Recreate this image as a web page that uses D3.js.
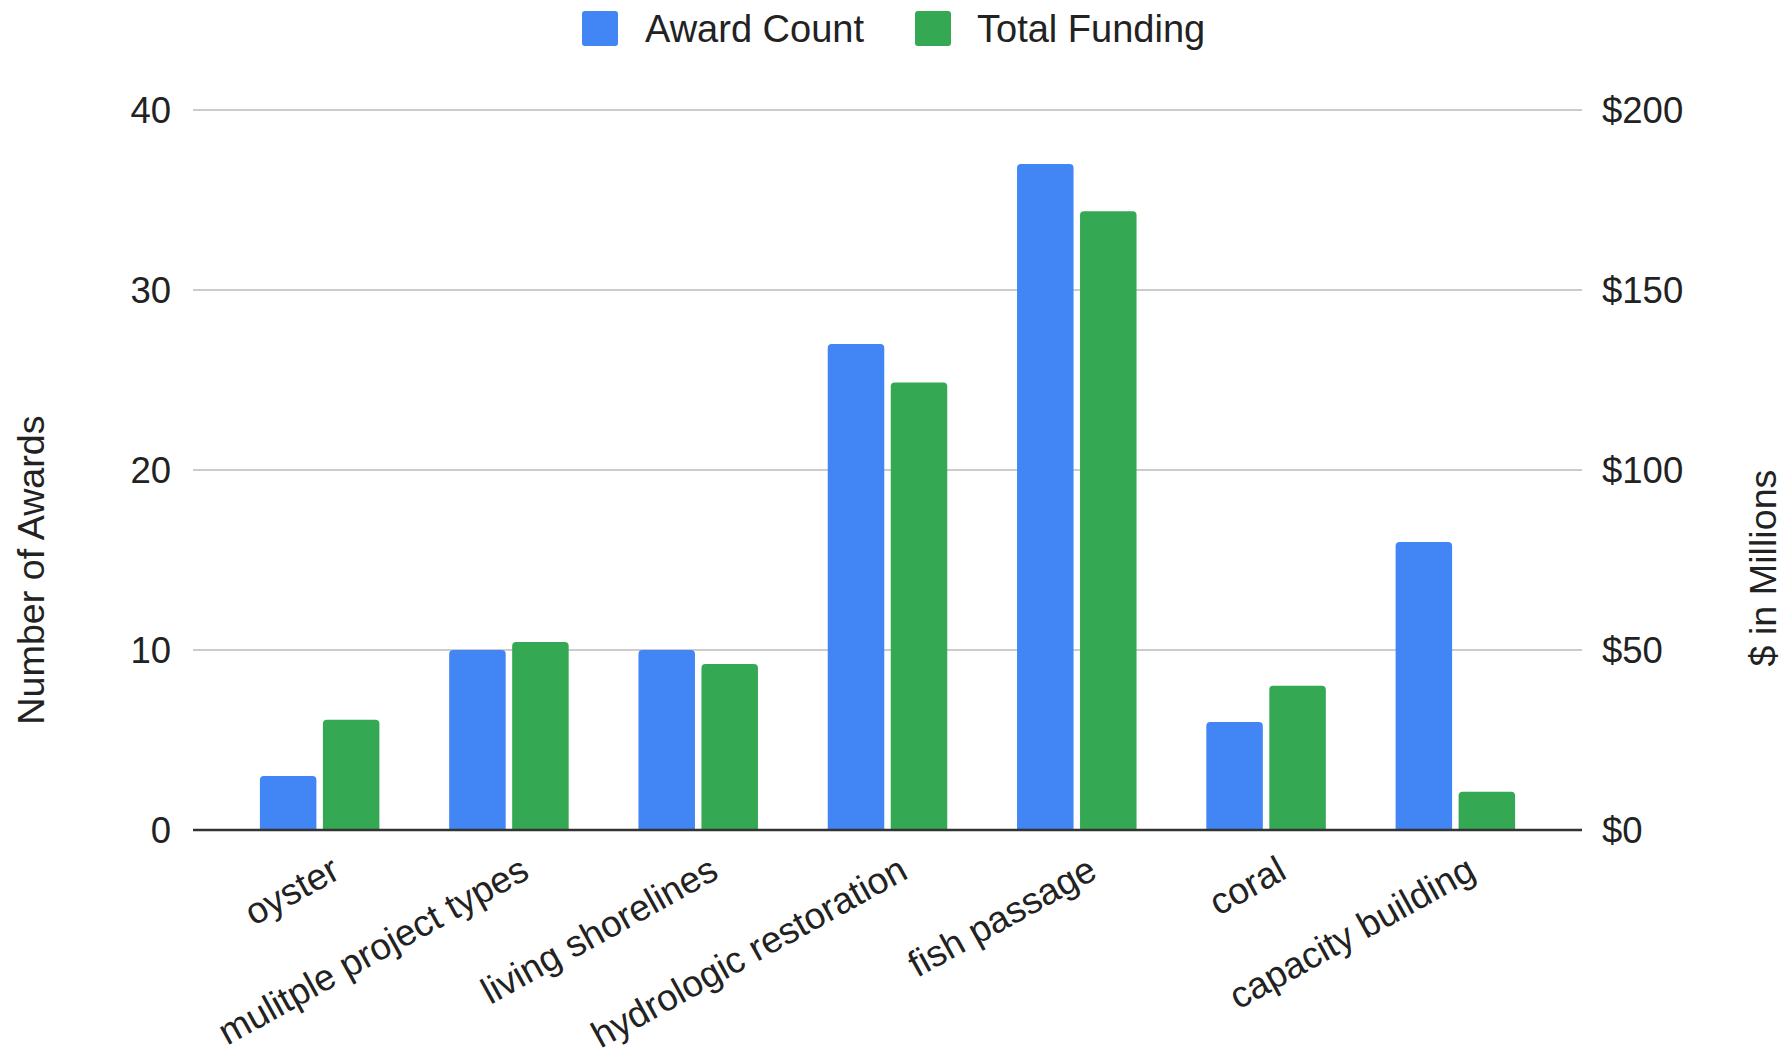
<!DOCTYPE html>
<html>
<head>
<meta charset="utf-8">
<script src="https://cdn.jsdelivr.net/npm/d3@7"></script>
<style>
  html, body { margin: 0; padding: 0; background: #fff; }
  svg { display: block; font-family: Arial, "Liberation Sans", sans-serif; }
</style>
</head>
<body>
<svg id="chart" width="1786" height="1059"></svg>
<script>
const categories = ["oyster", "mulitple project types", "living shorelines", "hydrologic restoration", "fish passage", "coral", "capacity building"];
const awardCount = [3, 10, 10, 27, 37, 6, 16];
const totalFunding = [30.6, 52.2, 46.1, 124.3, 171.9, 40.1, 10.6];
const leftTicks = [0, 10, 20, 30, 40];
const rightTicks = [0, 50, 100, 150, 200];
const seriesNames = ["Award Count", "Total Funding"];
const colors = ["#4285F4", "#34A853"];

const svg = d3.select("#chart");
const plot = { left: 193, right: 1582, top: 110, bottom: 830 };

const yL = d3.scaleLinear().domain([0, 40]).range([plot.bottom, plot.top]);
const yR = d3.scaleLinear().domain([0, 200]).range([plot.bottom, plot.top]);
const x = d3.scaleBand().domain(categories).range([225, 1550]).paddingInner(0).paddingOuter(0);
const step = x.bandwidth();
const barW = 56.5, gap = 6.5;

// gridlines
svg.append("g").selectAll("line").data(leftTicks.filter(d => d !== 0)).join("line")
  .attr("x1", plot.left).attr("x2", plot.right)
  .attr("y1", d => yL(d)).attr("y2", d => yL(d))
  .attr("stroke", "#cccccc").attr("stroke-width", 2);

// left axis labels
const leftAxis = d3.axisLeft(yL).tickValues(leftTicks).tickSize(0).tickPadding(0);
const gL = svg.append("g").attr("transform", `translate(171,0)`).call(leftAxis);
gL.select(".domain").remove();
gL.selectAll("text").attr("font-size", 36.5).attr("fill", "#222").attr("font-family", "Arial, 'Liberation Sans', sans-serif").attr("dy", "0.35em");

const rightAxis = d3.axisRight(yR).tickValues(rightTicks).tickSize(0).tickPadding(0).tickFormat(d => "$" + d);
const gR = svg.append("g").attr("transform", `translate(1602,0)`).call(rightAxis);
gR.select(".domain").remove();
gR.selectAll("text").attr("font-size", 36.5).attr("fill", "#222").attr("font-family", "Arial, 'Liberation Sans', sans-serif").attr("dy", "0.35em");

function topRounded(x0, y0, w, h, r) {
  r = Math.min(r, h, w / 2);
  return `M${x0},${y0 + h}V${y0 + r}Q${x0},${y0} ${x0 + r},${y0}H${x0 + w - r}Q${x0 + w},${y0} ${x0 + w},${y0 + r}V${y0 + h}Z`;
}

const groupW = 2 * barW + gap;
const bars = svg.append("g");
bars.selectAll("path.blue").data(categories).join("path")
  .attr("class", "blue")
  .attr("fill", colors[0])
  .attr("d", (c, i) => {
    const cx = x(c) + step / 2;
    const x0 = cx - groupW / 2;
    const y0 = yL(awardCount[i]);
    return topRounded(x0, y0, barW, plot.bottom - y0, 4);
  });
bars.selectAll("path.green").data(categories).join("path")
  .attr("class", "green")
  .attr("fill", colors[1])
  .attr("d", (c, i) => {
    const cx = x(c) + step / 2;
    const x0 = cx - groupW / 2 + barW + gap;
    const y0 = yR(totalFunding[i]);
    return topRounded(x0, y0, barW, plot.bottom - y0, 4);
  });

// baseline
svg.append("line")
  .attr("x1", plot.left).attr("x2", plot.right)
  .attr("y1", plot.bottom).attr("y2", plot.bottom)
  .attr("stroke", "#333").attr("stroke-width", 2.5);

// category labels
svg.append("g").selectAll("text").data(categories).join("text")
  .attr("transform", c => `translate(${x(c) + step / 2 + 16},${plot.bottom + 36}) rotate(-29)`)
  .attr("text-anchor", "end")
  .attr("dy", "0.35em")
  .attr("font-size", 37)
  .attr("fill", "#222")
  .text(c => c);

// axis titles
svg.append("text")
  .attr("transform", `translate(31,570) rotate(-90)`)
  .attr("text-anchor", "middle").attr("dy", "0.35em")
  .attr("font-size", 37.7).attr("fill", "#222")
  .text("Number of Awards");
svg.append("text")
  .attr("transform", `translate(1763,568) rotate(-90)`)
  .attr("text-anchor", "middle").attr("dy", "0.35em")
  .attr("font-size", 37.7).attr("fill", "#222")
  .text("$ in Millions");

// legend
const legendItems = [
  { name: seriesNames[0], color: colors[0], sx: 582, tx: 645 },
  { name: seriesNames[1], color: colors[1], sx: 915, tx: 977 }
];
const lg = svg.append("g");
lg.selectAll("rect").data(legendItems).join("rect")
  .attr("x", d => d.sx).attr("y", 11).attr("width", 36).attr("height", 35)
  .attr("rx", 3).attr("fill", d => d.color);
lg.selectAll("text").data(legendItems).join("text")
  .attr("x", d => d.tx).attr("y", 29).attr("dy", "0.35em")
  .attr("font-size", 38).attr("fill", "#222")
  .text(d => d.name);
</script>
</body>
</html>
